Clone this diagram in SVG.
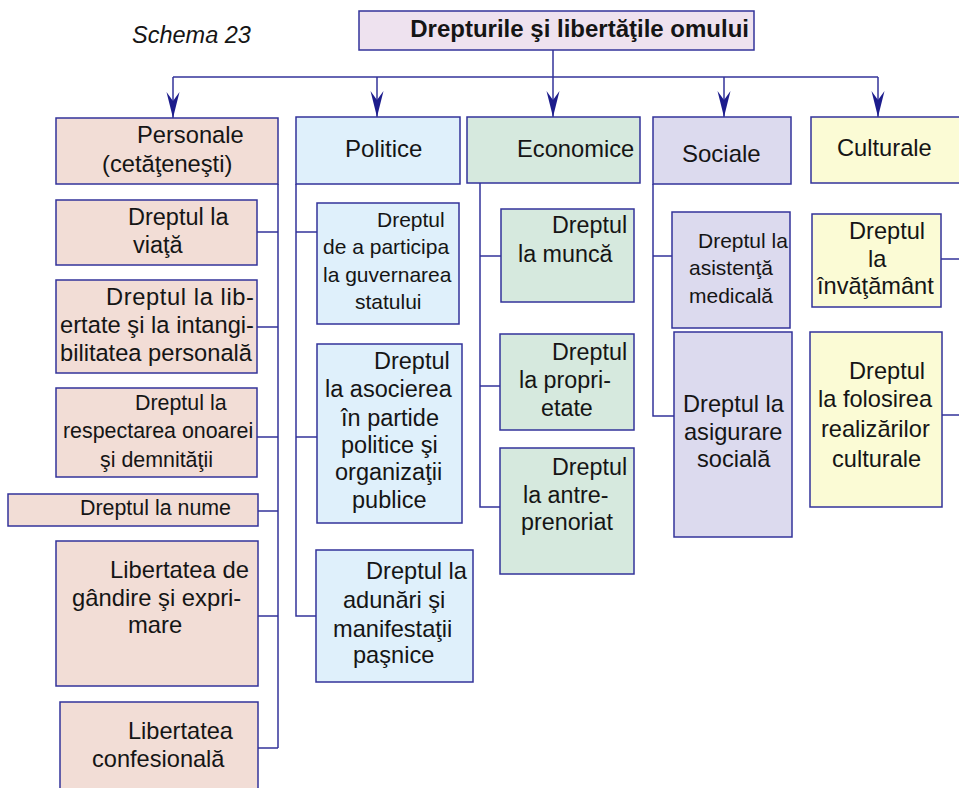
<svg xmlns="http://www.w3.org/2000/svg" width="959" height="788" viewBox="0 0 959 788">
<style>
text{font-family:"Liberation Sans",Arial,sans-serif;fill:#151515}
.box{stroke:#33339a;stroke-width:1.5}
.ln{stroke:#33339a;stroke-width:1.5;fill:none}
.top{fill:#eee2ef}
.per{fill:#f2ddd6}
.pol{fill:#dff0fb}
.eco{fill:#d6e9de}
.soc{fill:#dcdaee}
.cul{fill:#fbfbd5}
.h{font-size:23.7px}
</style>
<defs>
<marker id="arr" viewBox="-27 -8 28 16" markerWidth="28" markerHeight="16" refX="0" refY="0" orient="auto" markerUnits="userSpaceOnUse">
<path d="M0,0 L-26,-6.5 L-17,0 L-26,6.5 Z" fill="#1c1c8c"/>
</marker>
</defs>
<rect width="959" height="788" fill="#ffffff"/>
<text x="132" y="43" font-size="23.5" font-style="italic">Schema 23</text>

<g id="connectors">
<line class="ln" x1="553" y1="50" x2="553" y2="77"/>
<line class="ln" x1="173" y1="77" x2="878" y2="77"/>
<line class="ln" x1="173" y1="77" x2="173" y2="118" marker-end="url(#arr)"/>
<line class="ln" x1="377" y1="77" x2="377" y2="117" marker-end="url(#arr)"/>
<line class="ln" x1="553" y1="77" x2="553" y2="117" marker-end="url(#arr)"/>
<line class="ln" x1="724" y1="77" x2="724" y2="117" marker-end="url(#arr)"/>
<line class="ln" x1="878" y1="77" x2="878" y2="117" marker-end="url(#arr)"/>
<path class="ln" d="M278,184 V748 M257,232 H278 M257,327 H278 M257,437 H278 M258,511 H278 M258,616 H278 M258,748 H278"/>
<path class="ln" d="M296,184 V616 H316 M296,232 H317 M296,437 H317"/>
<path class="ln" d="M480,183 V507 H500 M480,256 H501 M480,386 H500"/>
<path class="ln" d="M653,184 V416 H674 M653,256 H672"/>
<path class="ln" d="M941,259 H959 M942,415 H959"/>
</g>

<g id="root">
<rect class="box top" x="359" y="11" width="395" height="39"/>
<text x="749" y="37" font-size="24" font-weight="bold" text-anchor="end">Drepturile şi libertăţile omului</text>
</g>

<g id="personale">
<rect class="box per" x="56" y="118" width="222" height="66"/>
<text class="h" x="137" y="143">Personale</text>
<text class="h" x="102" y="172">(cetăţeneşti)</text>
</g>
<g id="politice">
<rect class="box pol" x="296" y="117" width="164" height="67"/>
<text x="345" y="157" font-size="24">Politice</text>
</g>
<g id="economice">
<rect class="box eco" x="467" y="117" width="173" height="66"/>
<text class="h" x="517" y="157">Economice</text>
</g>
<g id="sociale">
<rect class="box soc" x="653" y="117" width="138" height="67"/>
<text x="682" y="162" font-size="24">Sociale</text>
</g>
<g id="culturale">
<rect class="box cul" x="811" y="117" width="160" height="66"/>
<text class="h" x="837" y="156">Culturale</text>
</g>

<g id="p1">
<rect class="box per" x="56" y="200" width="201" height="65"/>
<text font-size="23.5"><tspan x="128" y="225">Dreptul la</tspan><tspan x="133" y="253">viaţă</tspan></text>
</g>
<g id="p2">
<rect class="box per" x="56" y="280" width="201" height="93"/>
<text font-size="23.7"><tspan x="106" y="305" textLength="148">Dreptul la lib-</tspan><tspan x="60" y="333" textLength="194">ertate şi la intangi-</tspan><tspan x="60" y="361" textLength="192">bilitatea personală</tspan></text>
</g>
<g id="p3">
<rect class="box per" x="56" y="388" width="201" height="89"/>
<text font-size="21.4"><tspan x="135" y="410">Dreptul la</tspan><tspan x="63" y="438">respectarea onoarei</tspan><tspan x="100" y="467">şi demnităţii</tspan></text>
</g>
<g id="p4">
<rect class="box per" x="8" y="494" width="250" height="32"/>
<text x="80" y="515" font-size="21.4">Dreptul la nume</text>
</g>
<g id="p5">
<rect class="box per" x="56" y="541" width="202" height="145"/>
<text font-size="23.8"><tspan x="110" y="578">Libertatea de</tspan><tspan x="72" y="606">gândire şi expri-</tspan><tspan x="128" y="633">mare</tspan></text>
</g>
<g id="p6">
<rect class="box per" x="60" y="702" width="198" height="100"/>
<text font-size="23.6"><tspan x="128" y="739">Libertatea</tspan><tspan x="92" y="767">confesională</tspan></text>
</g>

<g id="po1">
<rect class="box pol" x="317" y="203" width="142" height="121"/>
<text font-size="21"><tspan x="377" y="227">Dreptul</tspan><tspan x="323" y="254">de a participa</tspan><tspan x="323" y="282">la guvernarea</tspan><tspan x="355" y="309">statului</tspan></text>
</g>
<g id="po2">
<rect class="box pol" x="317" y="344" width="145" height="179"/>
<text font-size="23.5"><tspan x="374" y="369">Dreptul</tspan><tspan x="325" y="397">la asocierea</tspan><tspan x="341" y="426">în partide</tspan><tspan x="341" y="453">politice şi</tspan><tspan x="335" y="480">organizaţii</tspan><tspan x="352" y="508">publice</tspan></text>
</g>
<g id="po3">
<rect class="box pol" x="316" y="550" width="157" height="132"/>
<text font-size="23.6"><tspan x="366" y="579">Dreptul la</tspan><tspan x="343" y="608">adunări şi</tspan><tspan x="333" y="637">manifestaţii</tspan><tspan x="353" y="663">paşnice</tspan></text>
</g>

<g id="e1">
<rect class="box eco" x="501" y="209" width="133" height="93"/>
<text font-size="23.3"><tspan x="552" y="233">Dreptul</tspan><tspan x="518" y="262">la muncă</tspan></text>
</g>
<g id="e2">
<rect class="box eco" x="500" y="334" width="134" height="96"/>
<text font-size="23.3"><tspan x="552" y="360">Dreptul</tspan><tspan x="519" y="388">la propri-</tspan><tspan x="541" y="416">etate</tspan></text>
</g>
<g id="e3">
<rect class="box eco" x="500" y="448" width="134" height="126"/>
<text font-size="23.3"><tspan x="552" y="475">Dreptul</tspan><tspan x="523" y="503">la antre-</tspan><tspan x="521" y="530">prenoriat</tspan></text>
</g>

<g id="s1">
<rect class="box soc" x="672" y="212" width="118" height="116"/>
<text font-size="21"><tspan x="698" y="248">Dreptul la</tspan><tspan x="689" y="275">asistenţă</tspan><tspan x="689" y="303">medicală</tspan></text>
</g>
<g id="s2">
<rect class="box soc" x="674" y="332" width="118" height="205"/>
<text font-size="23.6"><tspan x="683" y="412">Dreptul la</tspan><tspan x="684" y="440">asigurare</tspan><tspan x="697" y="467">socială</tspan></text>
</g>

<g id="c1">
<rect class="box cul" x="812" y="214" width="129" height="93"/>
<text font-size="23.6"><tspan x="849" y="239">Dreptul</tspan><tspan x="868" y="267">la</tspan><tspan x="817" y="294">învăţământ</tspan></text>
</g>
<g id="c2">
<rect class="box cul" x="810" y="332" width="132" height="175"/>
<text font-size="23.6"><tspan x="849" y="379">Dreptul</tspan><tspan x="818" y="407">la folosirea</tspan><tspan x="821" y="437">realizărilor</tspan><tspan x="832" y="467">culturale</tspan></text>
</g>
</svg>
